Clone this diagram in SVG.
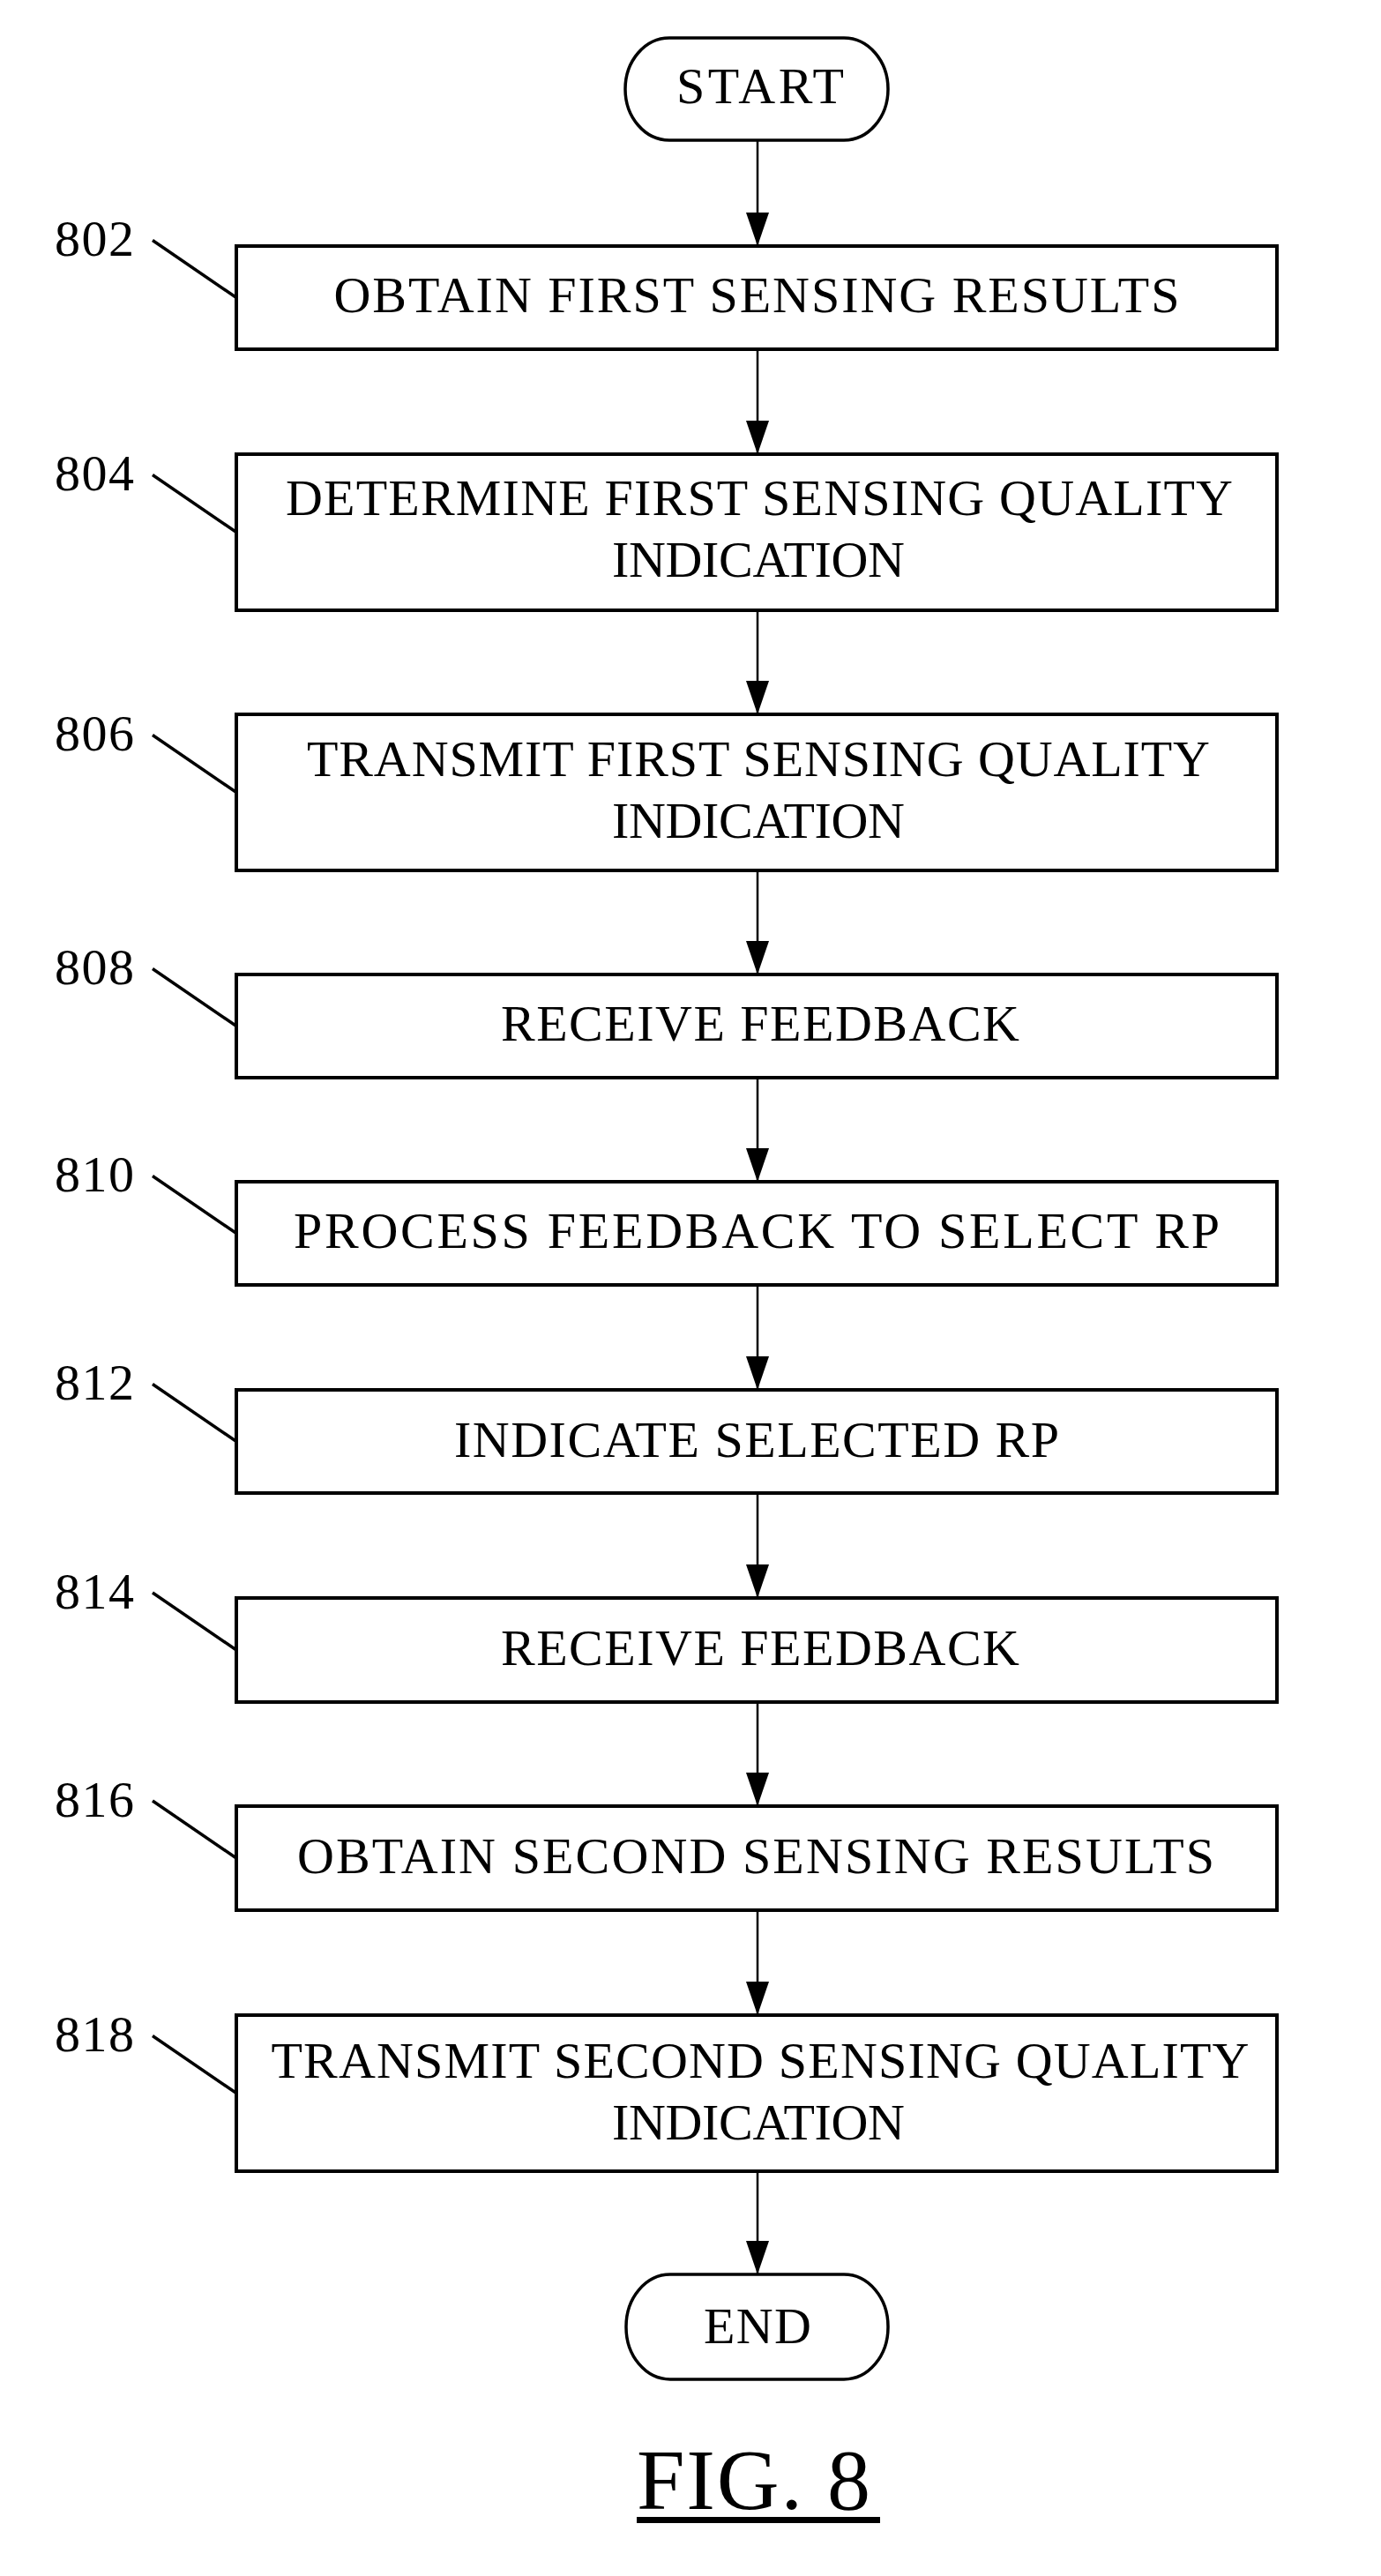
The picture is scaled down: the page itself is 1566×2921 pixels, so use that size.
<svg xmlns="http://www.w3.org/2000/svg" width="1566" height="2921" viewBox="0 0 1566 2921">
<style>
  .box { fill: #fff; stroke: #000; stroke-width: 4; }
  .pill { fill: #fff; stroke: #000; stroke-width: 3.5; }
  .t { font-family: "Liberation Serif", "Times New Roman", serif; font-size: 58px; fill: #000; text-anchor: middle; }
  .lbl { font-family: "Liberation Serif", "Times New Roman", serif; font-size: 58px; fill: #000; letter-spacing: 1.5px; }
  .lead { stroke: #000; stroke-width: 3.5; fill: none; }
  .conn { stroke: #000; stroke-width: 2.5; fill: none; marker-end: url(#arr); }
</style>
<defs>
  <marker id="arr" viewBox="0 0 38 26" refX="38" refY="13" markerWidth="38" markerHeight="26" markerUnits="userSpaceOnUse" orient="auto">
    <polygon points="0,0 38,13 0,26" fill="#000"/>
  </marker>
</defs>
<rect width="1566" height="2921" fill="#fff"/>

<g id="connectors">
  <line class="conn" x1="859" y1="159" x2="859" y2="279"/>
  <line class="conn" x1="859" y1="396" x2="859" y2="515"/>
  <line class="conn" x1="859" y1="692" x2="859" y2="810"/>
  <line class="conn" x1="859" y1="987" x2="859" y2="1105"/>
  <line class="conn" x1="859" y1="1222" x2="859" y2="1340"/>
  <line class="conn" x1="859" y1="1457" x2="859" y2="1576"/>
  <line class="conn" x1="859" y1="1693" x2="859" y2="1812"/>
  <line class="conn" x1="859" y1="1930" x2="859" y2="2048"/>
  <line class="conn" x1="859" y1="2166" x2="859" y2="2285"/>
  <line class="conn" x1="859" y1="2462" x2="859" y2="2579"/>
</g>

<g id="start">
  <rect class="pill" x="709" y="43" width="298" height="116" rx="50" ry="58"/>
  <text class="t" x="862" y="117" textLength="190">START</text>
</g>

<g id="n802">
  <rect class="box" x="268" y="279" width="1180" height="117"/>
  <text class="t" x="858" y="354" textLength="959">OBTAIN FIRST SENSING RESULTS</text>
  <line class="lead" x1="173" y1="272.5" x2="268" y2="337.5"/>
  <text class="lbl" x="62" y="290">802</text>
</g>

<g id="n804">
  <rect class="box" x="268" y="515" width="1180" height="177"/>
  <text class="t" x="861" y="584" textLength="1074">DETERMINE FIRST SENSING QUALITY</text>
  <text class="t" x="860" y="654" textLength="332">INDICATION</text>
  <line class="lead" x1="173" y1="538.5" x2="268" y2="603.5"/>
  <text class="lbl" x="62" y="556">804</text>
</g>

<g id="n806">
  <rect class="box" x="268" y="810" width="1180" height="177"/>
  <text class="t" x="860" y="880" textLength="1024">TRANSMIT FIRST SENSING QUALITY</text>
  <text class="t" x="860" y="950" textLength="332">INDICATION</text>
  <line class="lead" x1="173" y1="833.5" x2="268" y2="898.5"/>
  <text class="lbl" x="62" y="851">806</text>
</g>

<g id="n808">
  <rect class="box" x="268" y="1105" width="1180" height="117"/>
  <text class="t" x="862" y="1180" textLength="588">RECEIVE FEEDBACK</text>
  <line class="lead" x1="173" y1="1098.5" x2="268" y2="1163.5"/>
  <text class="lbl" x="62" y="1116">808</text>
</g>

<g id="n810">
  <rect class="box" x="268" y="1340" width="1180" height="117"/>
  <text class="t" x="858" y="1415" textLength="1050">PROCESS FEEDBACK TO SELECT RP</text>
  <line class="lead" x1="173" y1="1333.5" x2="268" y2="1398.5"/>
  <text class="lbl" x="62" y="1351">810</text>
</g>

<g id="n812">
  <rect class="box" x="268" y="1576" width="1180" height="117"/>
  <text class="t" x="858" y="1652" textLength="686">INDICATE SELECTED RP</text>
  <line class="lead" x1="173" y1="1569.5" x2="268" y2="1634.5"/>
  <text class="lbl" x="62" y="1587">812</text>
</g>

<g id="n814">
  <rect class="box" x="268" y="1812" width="1180" height="118"/>
  <text class="t" x="862" y="1888" textLength="588">RECEIVE FEEDBACK</text>
  <line class="lead" x1="173" y1="1806" x2="268" y2="1871"/>
  <text class="lbl" x="62" y="1824">814</text>
</g>

<g id="n816">
  <rect class="box" x="268" y="2048" width="1180" height="118"/>
  <text class="t" x="857" y="2124" textLength="1040">OBTAIN SECOND SENSING RESULTS</text>
  <line class="lead" x1="173" y1="2042" x2="268" y2="2107"/>
  <text class="lbl" x="62" y="2060">816</text>
</g>

<g id="n818">
  <rect class="box" x="268" y="2285" width="1180" height="177"/>
  <text class="t" x="862" y="2356" textLength="1109">TRANSMIT SECOND SENSING QUALITY</text>
  <text class="t" x="860" y="2426" textLength="332">INDICATION</text>
  <line class="lead" x1="173" y1="2308.5" x2="268" y2="2373.5"/>
  <text class="lbl" x="62" y="2326">818</text>
</g>

<g id="end">
  <rect class="pill" x="710" y="2579" width="297" height="119" rx="50" ry="59"/>
  <text class="t" x="859" y="2657" textLength="122">END</text>
</g>

<g id="caption">
  <text x="722" y="2845" font-family="Liberation Serif, Times New Roman, serif" font-size="98" textLength="265">FIG. 8</text>
  <rect x="722" y="2854" width="276" height="7" fill="#000"/>
</g>
</svg>
